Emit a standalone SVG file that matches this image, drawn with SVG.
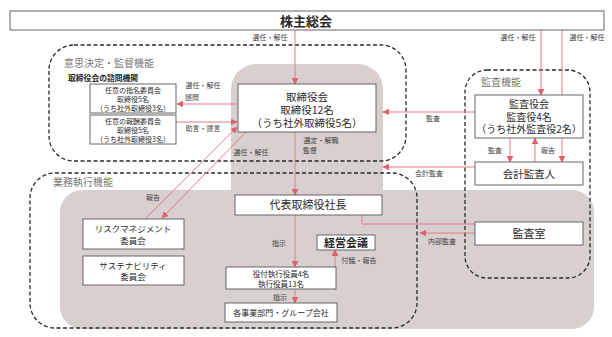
<svg xmlns="http://www.w3.org/2000/svg" width="612" height="337" viewBox="0 0 612 337">
<defs>
<style>
text{font-family:"Noto Sans CJK JP","Noto Sans",sans-serif;fill:#2a2a2a;text-anchor:middle}
.box{fill:#fff;stroke:#666;stroke-width:1}
.shade{fill:#d8cfcf}
.dash{fill:none;stroke:#2a2a2a;stroke-width:1.3;stroke-dasharray:4 2.5}
.ln{fill:none;stroke:#e57a86;stroke-width:1}
.arr{marker-end:url(#ah)}
.big{font-size:10.5px}
.sm{font-size:7px}
.lb{font-size:7px;fill:#444}
.area{font-size:10px;fill:#777;text-anchor:start}
</style>
<marker id="ah" viewBox="0 0 10 10" refX="9" refY="5" markerWidth="7" markerHeight="7" markerUnits="userSpaceOnUse" orient="auto">
<path d="M0,0 L10,5 L0,10 z" fill="#e0606f"/>
</marker>
</defs>

<g id="shading">
<path class="shade" d="M256,64 H358 A25,25 0 0 1 383,89 V190 H572 A22,22 0 0 1 594,212 V307 A22,22 0 0 1 572,329 H82 A22,22 0 0 1 60,307 V212 A22,22 0 0 1 82,190 H231 V89 A25,25 0 0 1 256,64 Z"/>
</g>

<g id="regions">
<rect class="dash" x="49" y="45" width="357" height="116" rx="25"/>
<text class="area" x="64" y="67">意思決定・監督機能</text>
<rect class="dash" x="465" y="70" width="125" height="208" rx="22"/>
<text class="area" x="481" y="86">監査機能</text>
<rect class="dash" x="30" y="173" width="387" height="155" rx="25"/>
<text class="area" x="53" y="186">業務執行機能</text>
<text x="68" y="81" style="font-size:7.8px;text-anchor:start;font-weight:bold">取締役会の諮問機関</text>
</g>

<g id="connectors">
<line class="ln arr" x1="295" y1="30" x2="295" y2="84"/>
<line class="ln arr" x1="541" y1="30" x2="541" y2="95"/>
<line class="ln arr" x1="562" y1="30" x2="562" y2="162"/>
<line class="ln arr" x1="237" y1="104" x2="177" y2="104"/>
<line class="ln arr" x1="176" y1="122" x2="237" y2="122"/>
<line class="ln arr" x1="475" y1="112" x2="383" y2="112"/>
<line class="ln arr" x1="475" y1="167" x2="383" y2="167"/>
<line class="ln arr" x1="510" y1="138" x2="510" y2="162"/>
<line class="ln arr" x1="535" y1="162" x2="535" y2="138"/>
<line class="ln arr" x1="145" y1="219" x2="237" y2="127"/>
<line class="ln arr" x1="246" y1="132" x2="162" y2="218"/>
<line class="ln arr" x1="295" y1="132" x2="295" y2="195"/>
<line class="ln arr" x1="295" y1="215" x2="295" y2="267"/>
<line class="ln arr" x1="335" y1="267" x2="335" y2="250"/>
<line class="ln arr" x1="295" y1="289" x2="295" y2="303"/>
<polyline class="ln" points="362,215 362,224 475,224"/>
<line class="ln arr" x1="475" y1="233" x2="420" y2="233"/>
<text class="lb" x="270" y="40">選任・解任</text>
<text class="lb" x="518" y="40">選任・解任</text>
<text class="lb" x="587" y="40">選任・解任</text>
<text class="lb" x="203" y="88">選任・解任</text>
<text class="lb" x="192" y="100">諮問</text>
<text class="lb" x="203" y="131">助言・提言</text>
<text class="lb" x="433" y="121">監査</text>
<text class="lb" x="321" y="143">選定・解職</text>
<text class="lb" x="310" y="153">監督</text>
<text class="lb" x="251" y="155">選任・解任</text>
<text class="lb" x="153" y="200">報告</text>
<text class="lb" x="429" y="176">会計監査</text>
<text class="lb" x="495" y="153">監査</text>
<text class="lb" x="548" y="153">報告</text>
<text class="lb" x="279" y="246">指示</text>
<text class="lb" x="359" y="263">付議・報告</text>
<text class="lb" x="280" y="300">指示</text>
<text class="lb" x="442" y="244">内部監査</text>
</g>

<g id="shareholders">
<rect class="box" x="10" y="11" width="594" height="19"/>
<text x="306" y="25.5" style="font-size:13px;font-weight:bold">株主総会</text>
</g>

<g id="nominating">
<rect class="box" x="90" y="84" width="86" height="29"/>
<text class="sm" x="133" y="93">任意の指名委員会</text>
<text class="sm" x="133" y="102">取締役5名</text>
<text class="sm" x="133" y="111">（うち社外取締役3名）</text>
</g>

<g id="compensation">
<rect class="box" x="90" y="115" width="86" height="29"/>
<text class="sm" x="133" y="124">任意の報酬委員会</text>
<text class="sm" x="133" y="133">取締役5名</text>
<text class="sm" x="133" y="142">（うち社外取締役3名）</text>
</g>

<g id="board">
<rect class="box" x="238" y="84" width="138" height="48"/>
<text class="big" x="307" y="100.5">取締役会</text>
<text class="big" x="307" y="113.5">取締役12名</text>
<text class="big" x="307" y="126.5">（うち社外取締役5名）</text>
</g>

<g id="audit-board">
<rect class="box" x="475" y="95" width="108" height="43"/>
<text x="529" y="108" style="font-size:10px">監査役会</text>
<text x="529" y="120.5" style="font-size:10px">監査役4名</text>
<text x="529" y="133" style="font-size:10px">（うち社外監査役2名）</text>
</g>

<g id="accounting-auditor">
<rect class="box" x="475" y="162" width="108" height="23"/>
<text x="529" y="177.5" style="font-size:10.5px">会計監査人</text>
</g>

<g id="president">
<rect class="box" x="235" y="195" width="147" height="20"/>
<text style="font-size:11px" x="308" y="209">代表取締役社長</text>
</g>

<g id="risk">
<rect class="box" x="83" y="219" width="101" height="30"/>
<text style="font-size:8.5px" x="133" y="232">リスクマネジメント</text>
<text style="font-size:8.5px" x="133" y="243.5">委員会</text>
</g>

<g id="sustainability">
<rect class="box" x="83" y="256" width="101" height="29"/>
<text style="font-size:8.5px" x="133" y="268.5">サステナビリティ</text>
<text style="font-size:8.5px" x="133" y="280">委員会</text>
</g>

<g id="management-meeting">
<rect class="box" x="317" y="235" width="58" height="15"/>
<text x="346" y="246.5" style="font-size:11px;font-weight:bold">経営会議</text>
</g>

<g id="audit-office">
<rect class="box" x="475" y="222" width="108" height="23"/>
<text style="font-size:11px" x="529" y="237.5">監査室</text>
</g>

<g id="executives">
<rect class="box" x="226" y="267" width="110" height="22"/>
<text style="font-size:7.5px" x="281" y="276.5">役付執行役員4名</text>
<text style="font-size:7.5px" x="281" y="286.5">執行役員13名</text>
</g>

<g id="divisions">
<rect class="box" x="225" y="303" width="112" height="19"/>
<text style="font-size:8px" x="281" y="315.5">各事業部門・グループ会社</text>
</g>
</svg>
